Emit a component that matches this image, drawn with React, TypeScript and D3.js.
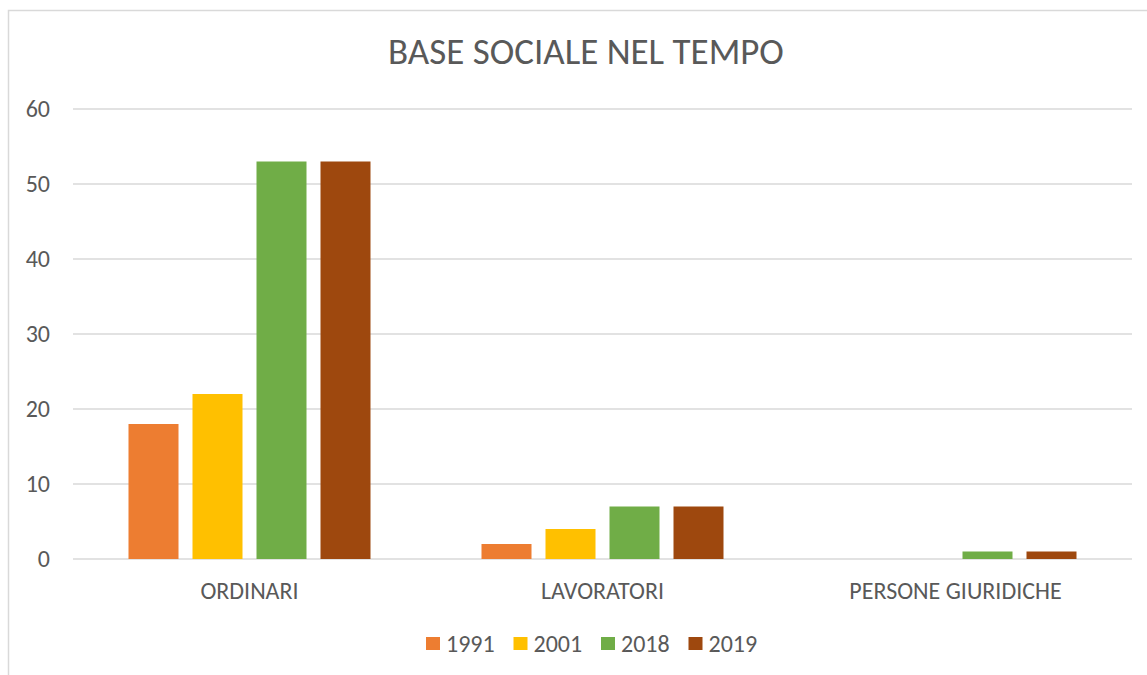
import React from 'react';
import * as d3 from 'd3';

const categories = ['ORDINARI', 'LAVORATORI', 'PERSONE GIURIDICHE'];
const years = ['1991', '2001', '2018', '2019'];
const values: Record<string, number[]> = {
    '1991': [18, 2, 0],
    '2001': [22, 4, 0],
    '2018': [53, 7, 1],
    '2019': [53, 7, 1],
};
const colors = ['#ED7D31', '#FFC000', '#70AD47', '#9E480E'];
const yTicks = [0, 10, 20, 30, 40, 50, 60];

const W = 1147;
const H = 675;
const FONT = "Carlito, 'Liberation Sans Narrow', 'Liberation Sans', sans-serif";
const TEXT = '#595959';

const App: React.FC = () => {
    // area del grafico
    const left = 73;
    const right = 1132;
    const top = 109;
    const bottom = 559;

    const x0 = d3.scaleBand<string>().domain(categories).range([left, right]);
    const bw = x0.bandwidth();
    const outer = (bw - 242) / 2;
    const x1 = d3.scaleBand<string>().domain(years).range([outer, bw - outer]).paddingInner(14 / 64);
    const y = d3.scaleLinear().domain([0, 60]).range([bottom, top]);

    const legendX = d3.scaleBand<string>().domain(years).range([426, 426 + 87.5 * 4]);

    return (
        <svg width={W} height={H} style={{display: 'block', position: 'absolute', left: 0, top: 0}}>
            <rect x={0} y={0} width={W} height={H} fill="#fff" />
            <rect x={8.5} y={10.5} width={W + 10} height={H + 10} fill="none" stroke="#D9D9D9" strokeWidth={1.5} />

            <text x={586} y={64} textAnchor="middle" fontFamily={FONT} fontSize={37} fill={TEXT}>
                BASE SOCIALE NEL TEMPO
            </text>

            {/* griglia e etichette asse y */}
            {yTicks.map(t => (
                <g key={t}>
                    <line x1={left} x2={right} y1={y(t)} y2={y(t)} stroke="#D9D9D9" strokeWidth={1.5} />
                    <text x={50} y={y(t) + 8} textAnchor="end" fontFamily={FONT} fontSize={24} fill={TEXT}>
                        {t}
                    </text>
                </g>
            ))}

            {/* barre */}
            {categories.map((c, ci) => (
                <g key={c} transform={`translate(${x0(c)},0)`}>
                    {years.map((yr, si) => {
                        const v = values[yr][ci];
                        if (!v) return null;
                        return (
                            <rect key={yr} x={x1(yr)} y={y(v)} width={x1.bandwidth()} height={y(0) - y(v)}
                                  fill={colors[si]} />
                        );
                    })}
                    <text x={bw / 2} y={599} textAnchor="middle" fontFamily={FONT} fontSize={24} fill={TEXT}>
                        {c}
                    </text>
                </g>
            ))}

            {/* legenda */}
            {years.map((yr, i) => (
                <g key={yr} transform={`translate(${legendX(yr)},0)`}>
                    <rect x={0} y={637} width={14} height={13} fill={colors[i]} />
                    <text x={20} y={652} fontFamily={FONT} fontSize={24} fill={TEXT}>{yr}</text>
                </g>
            ))}
        </svg>
    );
};

export default App;
